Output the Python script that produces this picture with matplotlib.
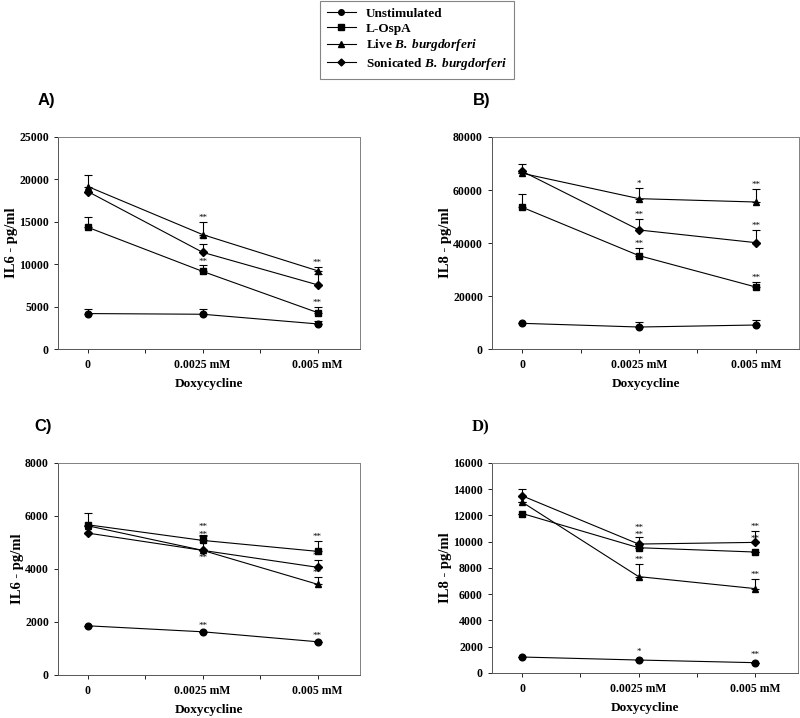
import matplotlib
matplotlib.use("Agg")
import matplotlib.pyplot as plt
from matplotlib.lines import Line2D
from matplotlib.ticker import FixedLocator

plt.rcParams['font.family'] = ['Liberation Serif', 'DejaVu Serif']
plt.rcParams['mathtext.fontset'] = 'custom'
plt.rcParams['mathtext.rm'] = 'Liberation Serif'
plt.rcParams['mathtext.it'] = 'Liberation Serif:italic'
plt.rcParams['mathtext.bf'] = 'Liberation Serif:bold'
plt.rcParams['mathtext.bfit'] = 'Liberation Serif:italic:bold'

x_labels = ["0", "0.0025 mM", "0.005 mM"]
series_names = ["Unstimulated", "L-OspA", "Live $\\mathbfit{B.\\ burgdorferi}$",
                "Sonicated $\\mathbfit{B.\\ burgdorferi}$"]
markers = ["o", "s", "^", "D"]

# Panel A: IL6 (pg/ml)
A_unstim = [4180, 4100, 2960]
A_unstim_err = [550, 630, 350]
A_ospa = [14350, 9150, 4300]
A_ospa_err = [1190, 710, 670]
A_live = [19160, 13490, 9230]
A_live_err = [1340, 1450, 470]
A_soni = [18570, 11400, 7570]
A_soni_err = [0, 940, 1230]
A_stars = [(1, 14940, "**"), (1, 12340, "**"), (1, 9860, "**"),
           (2, 9700, "**"), (2, 4970, "**"), (2, 3310, "*")]

# Panel B: IL8 (pg/ml)
B_unstim = [9690, 8300, 9060]
B_unstim_err = [0, 1890, 2010]
B_ospa = [53460, 35220, 23400]
B_ospa_err = [5160, 2890, 1880]
B_live = [66290, 56730, 55470]
B_live_err = [0, 4020, 4910]
B_soni = [67040, 44910, 40130]
B_soni_err = [2770, 4150, 4780]
B_stars = [(1, 60750, "*"), (2, 60380, "**"), (1, 49060, "**"),
           (2, 44910, "**"), (1, 38110, "**"), (2, 25280, "**")]

# Panel C: IL6 (pg/ml)
C_unstim = [1856, 1630, 1254]
C_unstim_err = [0, 0, 0]
C_ospa = [5668, 5078, 4665]
C_ospa_err = [430, 200, 390]
C_live = [5630, 4702, 3423]
C_live_err = [0, 0, 290]
C_soni = [5354, 4702, 4063]
C_soni_err = [0, 540, 280]
C_stars = [(1, 5420, "**"), (1, 5120, "**"), (1, 4280, "**"),
           (2, 5053, "**"), (2, 4339, "**"), (2, 3712, "**"),
           (1, 1710, "**"), (2, 1340, "**")]

# Panel D: IL8 (pg/ml)
D_unstim = [1215, 987, 785]
D_unstim_err = [0, 0, 0]
D_ospa = [12150, 9544, 9215]
D_ospa_err = [0, 0, 0]
D_live = [13013, 7342, 6430]
D_live_err = [0, 960, 760]
D_soni = [13494, 9823, 9949]
D_soni_err = [560, 510, 890]
D_stars = [(1, 10750, "**"), (1, 10250, "**"), (1, 8304, "**"),
           (2, 10835, "**"), (2, 9900, "**"), (2, 7190, "**"),
           (1, 1300, "*"), (2, 1050, "**")]

panels = [
    ("A)", "IL6 - pg/ml", 25000, 5000,
     [A_unstim, A_ospa, A_live, A_soni],
     [A_unstim_err, A_ospa_err, A_live_err, A_soni_err], A_stars,
     [0.0725, 0.5139, 0.3775, 0.2953], (38, 101), 'Liberation Sans'),
    ("B)", "IL8 - pg/ml", 80000, 20000,
     [B_unstim, B_ospa, B_live, B_soni],
     [B_unstim_err, B_ospa_err, B_live_err, B_soni_err], B_stars,
     [0.615, 0.5139, 0.38375, 0.2953], (473, 101), 'Liberation Sans'),
    ("C)", "IL6 - pg/ml", 8000, 2000,
     [C_unstim, C_ospa, C_live, C_soni],
     [C_unstim_err, C_ospa_err, C_live_err, C_soni_err], C_stars,
     [0.0725, 0.0599, 0.3775, 0.2953], (34, 427), 'Liberation Sans'),
    ("D)", "IL8 - pg/ml", 16000, 2000,
     [D_unstim, D_ospa, D_live, D_soni],
     [D_unstim_err, D_ospa_err, D_live_err, D_soni_err], D_stars,
     [0.615, 0.0627, 0.3825, 0.2925], (472, 427), 'Liberation Serif'),
]

fig = plt.figure(figsize=(8, 7.18), dpi=100)

xs = [0, 1, 2]
for (lab, ylab, ymax, ystep, vals, errs, stars, pos, lpos, lfont) in panels:
    ax = fig.add_axes(pos)
    for v, e, m in zip(vals, errs, markers):
        ms = 4.8 if m != "D" else 4.2
        ax.errorbar(xs, v, yerr=[[0] * 3, e], fmt="-" + m, color="black",
                    lw=0.8, ms=ms, capsize=3, elinewidth=0.8, capthick=0.8)
    for (xi, yv, txt) in stars:
        ax.text(xi, yv, txt, ha="center", va="bottom", fontsize=6.5)
    ax.set_xlim(-0.26, 2.37)
    ax.set_ylim(0, ymax)
    ax.set_yticks(range(0, ymax + 1, ystep))
    ax.set_xticks(xs)
    ax.set_xticklabels(x_labels)
    ax.xaxis.set_minor_locator(FixedLocator([0.5, 1.5]))
    ax.tick_params(axis="both", which="both", direction="out", labelsize=8.5,
                   length=3, width=0.6)
    ax.tick_params(axis="x", which="major", pad=4)
    for t in ax.get_xticklabels() + ax.get_yticklabels():
        t.set_fontweight("bold")
    ax.tick_params(top=False, right=False)
    for s in ["top", "right"]:
        ax.spines[s].set_color("#808080")
        ax.spines[s].set_linewidth(0.7)
    for s in ["left", "bottom"]:
        ax.spines[s].set_color("#555555")
        ax.spines[s].set_linewidth(0.7)
    ax.set_ylabel(ylab, fontsize=10.5, fontweight="bold", labelpad=1)
    ax.set_xlabel("Doxycycline", fontsize=9.5, fontweight="bold", labelpad=5)
    fig.text(lpos[0] / 800, 1 - lpos[1] / 718, lab, fontsize=12,
             fontweight="bold", family=lfont, va="center", ha="left")

handles = [Line2D([0], [0], color="black", lw=0.8, marker=m,
                  ms=(4 if m != "D" else 3.5)) for m in markers]
leg = fig.legend(handles, series_names, loc="upper left",
                 bbox_to_anchor=(320 / 800, 1 - 1 / 718), borderaxespad=0,
                 frameon=True, fancybox=False, edgecolor="#666666",
                 prop={"weight": "bold", "size": 9.5}, handlelength=2.2,
                 labelspacing=0.2, borderpad=0.5, handletextpad=0.8)
leg.get_frame().set_linewidth(0.8)

fig.savefig("out.png", dpi=100)
